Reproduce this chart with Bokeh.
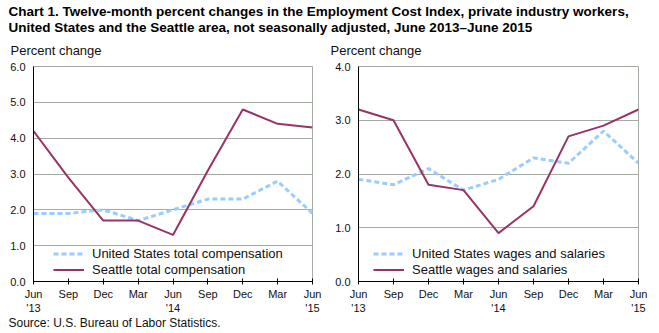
from bokeh.plotting import figure
from bokeh.models import Range1d, FixedTicker, Legend, LegendItem, Label, PrintfTickFormatter
from bokeh.layouts import column, row
from bokeh.embed import file_html
from bokeh.resources import INLINE

months = ["Jun", "Sep", "Dec", "Mar", "Jun", "Sep", "Dec", "Mar", "Jun"]
years = ["'13", "", "", "", "'14", "", "", "", "'15"]

us_total = [1.9, 1.9, 2.0, 1.7, 2.0, 2.3, 2.3, 2.8, 1.9]
sea_total = [4.2, 2.9, 1.7, 1.7, 1.3, 3.1, 4.8, 4.4, 4.3]
us_wages = [1.9, 1.8, 2.1, 1.7, 1.9, 2.3, 2.2, 2.8, 2.2]
sea_wages = [3.2, 3.0, 1.8, 1.7, 0.9, 1.4, 2.7, 2.9, 3.2]

title1 = "Chart 1. Twelve-month percent changes in the Employment Cost  Index, private industry  workers,"
title2 = "United States and the Seattle area, not seasonally adjusted, June 2013\u2013June  2015"
ylab = "Percent change"
source = "Source: U.S. Bureau of Labor Statistics."

FONT = "Liberation Sans"
SEA = "#993366"
US = "#99CCFF"
GRID = "#a3aba3"

x = list(range(len(months)))
labels = {i: (m + "\n" + y if y else m) for i, (m, y) in enumerate(zip(months, years))}


def panel(width, ymax, us, sea, us_name, sea_name, bl, br, bt, leg_loc):
    p = figure(width=width, height=258, x_range=Range1d(0, 8), y_range=Range1d(0, ymax),
               output_backend="svg", toolbar_location=None,
               min_border_left=bl, min_border_right=br, min_border_top=bt, min_border_bottom=31)
    p.background_fill_color = "white"
    p.border_fill_color = "white"
    p.outline_line_color = GRID
    p.xgrid.grid_line_color = None
    p.ygrid.grid_line_color = GRID
    p.ygrid.ticker = FixedTicker(ticks=list(range(0, int(ymax) + 1)))
    p.xaxis.ticker = FixedTicker(ticks=x)
    p.xaxis.major_label_overrides = labels
    p.xaxis.major_tick_in = 3
    p.xaxis.major_tick_out = 3
    p.xaxis.minor_tick_line_color = None
    p.xaxis.major_label_standoff = 3
    p.yaxis.ticker = FixedTicker(ticks=list(range(0, int(ymax) + 1)))
    p.yaxis.formatter = PrintfTickFormatter(format="%.1f")
    p.yaxis.major_tick_in = 0
    p.yaxis.major_tick_out = 0
    p.yaxis.minor_tick_line_color = None
    p.yaxis.major_label_standoff = 8
    for ax in (p.xaxis, p.yaxis):
        ax.axis_line_color = "black"
        ax.major_tick_line_color = "black"
        ax.major_label_text_font = FONT
        ax.major_label_text_font_size = "11px"
        ax.major_label_text_color = "#111111"
    r_us = p.line(x, us, line_color=US, line_width=3, line_dash="5 3")
    r_sea = p.line(x, sea, line_color=SEA, line_width=2)
    leg = Legend(items=[LegendItem(label=us_name, renderers=[r_us]),
                        LegendItem(label=sea_name, renderers=[r_sea])],
                 location=leg_loc, padding=0, margin=0, spacing=1,
                 label_height=15, glyph_height=15, glyph_width=31, label_standoff=8,
                 background_fill_alpha=0, border_line_color=None,
                 label_text_font=FONT, label_text_font_size="13px", label_text_color="#111111")
    p.add_layout(leg, "center")
    return p


left = panel(330, 6, us_total, sea_total, "United States total compensation",
             "Seattle total compensation", 33, 18, 8, (20, 4))
right = panel(329, 4, us_wages, sea_wages, "United States wages and salaries",
              "Seattle wages and salaries", 28, 21, 5, (15, 4))


def blank(width, height):
    f = figure(width=width, height=height, x_range=Range1d(0, width), y_range=Range1d(0, height),
               output_backend="svg", toolbar_location=None, min_border=0)
    f.axis.visible = False
    f.grid.visible = False
    f.outline_line_color = None
    return f


header = blank(659, 58)
for txt, yy in ((title1, 11), (title2, 27)):
    header.add_layout(Label(x=8, y=58 - yy, text=txt, text_font=FONT, text_font_size="13.5px",
                            text_font_style="bold", text_baseline="middle", text_color="#000000"))
for xx in (10, 330):
    header.add_layout(Label(x=xx, y=58 - 50, text=ylab, text_font=FONT, text_font_size="13px",
                            text_baseline="middle", text_color="#111111"))

footer = blank(659, 17)
footer.add_layout(Label(x=8, y=17 - 6, text=source, text_font=FONT, text_font_size="12px",
                        text_baseline="middle", text_color="#111111"))

layout = column(header, row(left, right), footer)
open("out.html", "w").write(file_html(layout, INLINE))
